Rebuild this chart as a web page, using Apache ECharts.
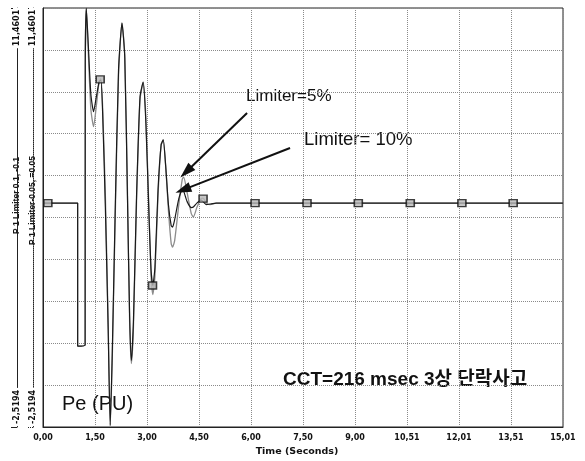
<!DOCTYPE html>
<html>
<head>
<meta charset="utf-8">
<script src="https://cdn.jsdelivr.net/npm/echarts@6/dist/echarts.min.js"></script>
<style>
  html, body { margin: 0; padding: 0; background: #fff; }
  #chart { width: 585px; height: 461px; }
</style>
</head>
<body>
<div id="chart"></div>
<script>
  // time axis (s) shared by both traces
  var time = [0.00, 1.00, 1.00, 1.216, 1.22, 1.25, 1.30, 1.38, 1.46, 1.54, 1.62, 1.67, 1.72, 1.80, 1.88, 1.94,
    2.00, 2.08, 2.18, 2.28, 2.36, 2.44, 2.50, 2.55, 2.61, 2.70, 2.80, 2.89, 2.97, 3.06, 3.12, 3.17, 3.23,
    3.32, 3.41, 3.47, 3.54, 3.62, 3.70, 3.74, 3.80, 3.92, 4.02, 4.06, 4.16, 4.28, 4.34, 4.44, 4.56, 4.62,
    4.72, 4.82, 5.00, 15.008];
  // Pe (PU), limiter 0.1 / -0.1
  var limiter10 = [4.95, 4.95, 0.18, 0.22, 9.60, 11.46, 10.40, 8.60, 8.00, 8.50, 9.00, 9.05, 8.00, 4.80, 0.80, -2.45,
    0.00, 4.50, 9.40, 10.96, 9.80, 5.00, 1.20, -0.30, 1.00, 5.20, 8.50, 8.99, 7.60, 4.50, 2.70, 2.20, 2.80,
    5.40, 6.90, 7.06, 6.20, 4.90, 4.20, 4.15, 4.40, 5.10, 5.39, 5.35, 5.00, 4.80, 4.82, 4.95, 5.05, 5.00,
    4.90, 4.92, 4.95, 4.95];
  // Pe (PU), limiter 0.05 / -0.05
  var limiter05 = [4.95, 4.95, 0.18, 0.22, 9.60, 11.46, 10.20, 8.10, 7.50, 8.20, 9.00, 9.10, 8.20, 5.20, 1.00, -2.50,
    -0.20, 4.20, 9.20, 10.96, 9.90, 5.20, 1.00, -0.40, 0.80, 5.00, 8.40, 8.99, 7.80, 4.60, 2.50, 1.90, 2.50,
    5.20, 6.90, 7.06, 6.20, 4.70, 3.60, 3.48, 3.70, 4.90, 5.75, 5.82, 5.30, 4.60, 4.49, 4.80, 5.10, 5.12,
    4.95, 4.90, 4.95, 4.95];
  var markerTime = [0.14, 1.65, 3.16, 4.62, 6.12, 7.62, 9.10, 10.60, 12.09, 13.57];
  var markerValue = [4.95, 9.08, 2.20, 5.10, 4.95, 4.95, 4.95, 4.95, 4.95, 4.95];
  var xTickLabels = ['0,00', '1,50', '3,00', '4,50', '6,00', '7,50', '9,00', '10,51', '12,01', '13,51', '15,01'];
  var yTickLabels = ['-2,5194', '11,4601'];
  var arrowFrom = [[5.89, 7.96], [7.13, 6.79]];
  var arrowTo = [[4.13, 5.99], [4.04, 5.39]];

  var xMax = 15.008;
  var xStep = 1.5008;
  var yMin = -2.5194;
  var yMax = 11.4601;

  function pairs(vals) {
    return time.map(function (t, i) { return [t, vals[i]]; });
  }

  var axisFont = 'DejaVu Sans';

  function sideAxis(name, offset, lineType, shift) {
    return {
      type: 'value',
      position: 'left',
      offset: offset,
      min: yMin,
      max: yMax,
      interval: yMax - yMin,
      name: '{s| }{t|' + name + '}',
      nameLocation: 'middle',
      nameRotate: 90,
      nameGap: 0,
      nameMoveOverlap: false,
      nameTextStyle: {
        verticalAlign: 'middle',
        rich: {
          t: { fontFamily: 'Liberation Sans', fontWeight: 'bold', fontSize: 8.5, color: '#111', backgroundColor: '#fff', padding: [0, 2] },
          s: { width: shift, fontSize: 8.5 }
        }
      },
      axisLine: { show: true, onZero: false, lineStyle: { color: '#222', width: 1, type: lineType } },
      axisTick: { show: true, length: 6, lineStyle: { color: '#222', type: lineType } },
      splitLine: { show: false },
      axisLabel: {
        show: true,
        rotate: 90,
        margin: 0,
        verticalAlign: 'middle',
        showMinLabel: true,
        showMaxLabel: true,
        formatter: function (v) {
          if (Math.abs(v - yMax) < 1e-6) return '{t|' + yTickLabels[1] + '}{s| }';
          if (Math.abs(v - yMin) < 1e-6) return '{s| }{t|' + yTickLabels[0] + '}';
          return '';
        },
        rich: {
          t: { fontFamily: axisFont, fontWeight: 'bold', fontSize: 8, color: '#111', backgroundColor: '#fff', padding: [0, 2] },
          s: { width: 40, fontSize: 8 }
        }
      }
    };
  }

  var chart = echarts.init(document.getElementById('chart'), null, { renderer: 'canvas' });

  chart.setOption({
    animation: false,
    backgroundColor: '#fff',
    grid: {
      left: 43, right: 22, top: 8, bottom: 34,
      outerBoundsMode: 'none',
      containLabel: false,
      show: true, borderColor: '#222', borderWidth: 1, backgroundColor: 'transparent'
    },
    xAxis: {
      type: 'value',
      min: 0,
      max: xMax,
      interval: xStep,
      name: 'Time (Seconds)',
      nameLocation: 'middle',
      nameGap: 18,
      nameTextStyle: { fontFamily: axisFont, fontWeight: 'bold', fontSize: 9.5, color: '#111', padding: [0, 12, 0, 0] },
      axisLine: { show: true, onZero: false, lineStyle: { color: '#222', width: 1 } },
      axisTick: { show: false },
      axisLabel: {
        margin: 7,
        fontFamily: axisFont, fontWeight: 'bold', fontSize: 8, color: '#111',
        showMaxLabel: true,
        formatter: function (v) { return xTickLabels[Math.round(v / xStep)] || ''; }
      },
      splitLine: { show: true, lineStyle: { color: '#8a8a8a', type: 'dotted', width: 1 } }
    },
    yAxis: [
      {
        type: 'value',
        position: 'left',
        min: yMin,
        max: yMax,
        interval: (yMax - yMin) / 10,
        axisLine: { show: true, onZero: false, lineStyle: { color: '#222', width: 1 } },
        axisTick: { show: false },
        axisLabel: { show: false },
        splitLine: { show: true, lineStyle: { color: '#8a8a8a', type: 'dotted', width: 1 } }
      },
      sideAxis('P 1 Limiter 0.1, -0.1', 26, 'solid', 44),
      sideAxis('P 1 Limiter-0.05, =0.05', 10, 'dotted', 34)
    ],
    series: [
      {
        name: 'P 1 Limiter-0.05, =0.05',
        type: 'line',
        data: pairs(limiter05),
        showSymbol: false,
        smooth: 0.2,
        lineStyle: { color: '#8c8c8c', width: 1.3 },
        z: 2
      },
      {
        name: 'P 1 Limiter 0.1, -0.1',
        type: 'line',
        data: pairs(limiter10),
        showSymbol: false,
        smooth: 0.2,
        lineStyle: { color: '#1a1a1a', width: 1.2 },
        z: 3,
        markLine: {
          silent: true,
          symbol: ['none', 'triangle'],
          symbolSize: [10, 16],
          label: { show: false },
          lineStyle: { color: '#111', width: 2, type: 'solid' },
          data: arrowFrom.map(function (p, i) {
            return [{ coord: p }, { coord: arrowTo[i] }];
          })
        }
      },
      {
        type: 'scatter',
        data: markerTime.map(function (t, i) { return [t, markerValue[i]]; }),
        symbol: 'rect',
        symbolSize: [8, 7],
        itemStyle: { color: '#b8b8b8', borderColor: '#111', borderWidth: 1.5 },
        z: 4
      }
    ],
    graphic: [
      { type: 'text', left: 246, top: 88, style: { text: 'Limiter=5%', font: '17px "Liberation Sans"', fill: '#111' } },
      { type: 'text', left: 304, top: 130, style: { text: 'Limiter= 10%', font: '18.5px "Liberation Sans"', fill: '#111' } },
      { type: 'text', left: 283, top: 370, style: { text: 'CCT=216 msec 3상 단락사고', font: 'bold 19px "Liberation Sans", "Noto Sans CJK KR"', fill: '#111' } },
      { type: 'text', left: 62, top: 394, style: { text: 'Pe (PU)', font: '20px "Liberation Sans"', fill: '#111' } }
    ]
  });
</script>
</body>
</html>
